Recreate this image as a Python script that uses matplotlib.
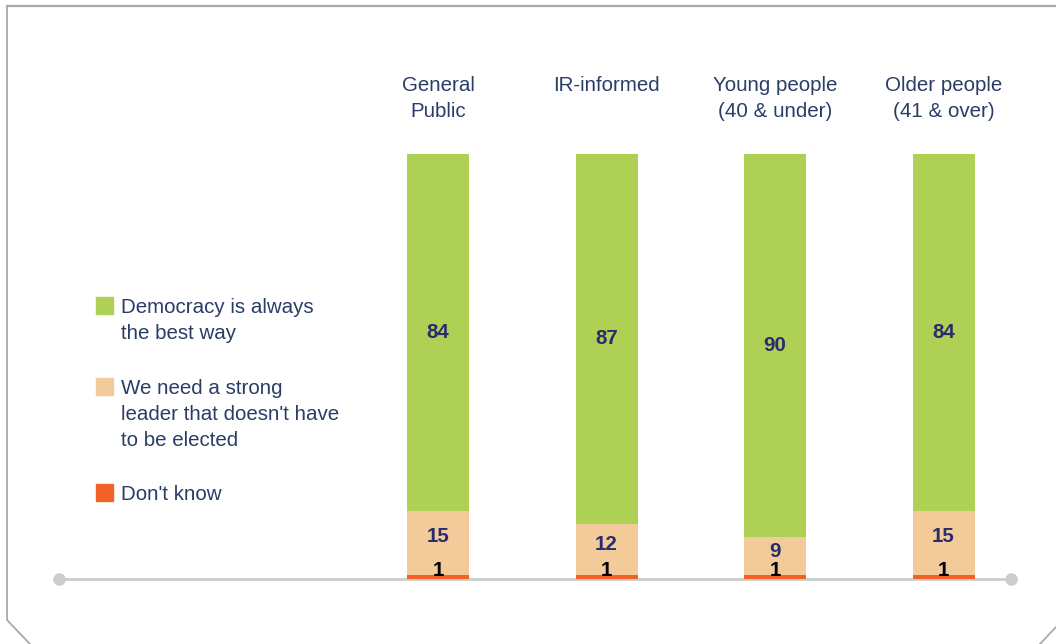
import matplotlib
matplotlib.use("Agg")
import matplotlib.pyplot as plt
from matplotlib.lines import Line2D
from matplotlib.patches import Rectangle
import numpy as np

plt.rcParams['font.family'] = ['Liberation Sans', 'DejaVu Sans']

# Survey groups and response shares (%)
groups = ["General\nPublic", "IR-informed", "Young people\n(40 & under)", "Older people\n(41 & over)"]
democracy = [84, 87, 90, 84]
strong_leader = [15, 12, 9, 15]
dont_know = [1, 1, 1, 1]

legend_labels = ["Democracy is always\nthe best way",
                 "We need a strong\nleader that doesn't have\nto be elected",
                 "Don't know"]

c_green = "#aed155"
c_peach = "#f3cb9b"
c_orange = "#f26125"
c_text = "#2a3d66"
c_value = "#2a2c6c"

W, H = 1056, 644
fig = plt.figure(figsize=(W / 100, H / 100), dpi=100)
fig.patch.set_facecolor("white")

# Plot area: baseline at y=579 px, 100% reaches y=154 px
ax_left, ax_right = 59, 1011
ax_bottom, ax_top = 579, 154
ax = fig.add_axes([ax_left / W, (H - ax_bottom) / H,
                   (ax_right - ax_left) / W, (ax_bottom - ax_top) / H])
step = 168.5
x0 = 438
ax.set_xlim((ax_left - x0) / step, (ax_right - x0) / step)
ax.set_ylim(0, 100)
ax.axis("off")

x = np.arange(len(groups))
bw = 62 / step
dk = np.array(dont_know)
sl = np.array(strong_leader)
dm = np.array(democracy)

ax.bar(x, dk, width=bw, color=c_orange, zorder=3)
ax.bar(x, sl, width=bw, bottom=dk, color=c_peach, zorder=3)
ax.bar(x, dm, width=bw, bottom=dk + sl, color=c_green, zorder=3)

fs = 14.8
for i in range(len(groups)):
    ax.text(x[i], dk[i] + sl[i] + dm[i] / 2, f"{dm[i]}", ha="center", va="center",
            fontsize=fs, fontweight="bold", color=c_value, zorder=5)
    # keep the label clear of the thin "Don't know" segment below it
    ax.text(x[i], dk[i] + sl[i] * 0.6, f"{sl[i]}", ha="center", va="center",
            fontsize=fs, fontweight="bold", color=c_value, zorder=5)
    ax.text(x[i], 2.1, f"{dk[i]}", ha="center", va="center",
            fontsize=fs, fontweight="bold", color="black", zorder=5)

# Group headings above the bars (top-aligned)
for i in range(len(groups)):
    fig.text((x0 + step * x[i]) / W, 1 - 76 / H, groups[i], ha="center", va="top",
             fontsize=fs, color=c_text, linespacing=1.48)

# Baseline with round end caps
xl = ax.get_xlim()
ax.plot([xl[0], xl[1]], [0, 0], color="#c9cec9", lw=2, zorder=2,
        clip_on=False, solid_capstyle="butt")
ax.plot([xl[0], xl[1]], [0, 0], ls="none", marker="o", ms=8,
        color="#c9cec9", clip_on=False, zorder=2)

# Legend drawn in figure pixel coordinates
def fx(px):
    return px / W

def fy(py):
    return 1 - py / H

legend_items = [(c_green, 297, legend_labels[0]),
                (c_peach, 378, legend_labels[1]),
                (c_orange, 484, legend_labels[2])]
for color, top, label in legend_items:
    fig.patches.append(Rectangle((fx(96), fy(top + 17)), 17 / W, 17 / H,
                                 transform=fig.transFigure, color=color))
    fig.text(fx(121), fy(top + 1), label, ha="left", va="top",
             fontsize=fs, color=c_text, linespacing=1.48)

# Outer frame with clipped corners
frame = "#aaaaaa"
fig.add_artist(Line2D([fx(7), fx(1056)], [fy(6), fy(6)], color=frame, lw=1.6,
                      transform=fig.transFigure))
fig.add_artist(Line2D([fx(7), fx(7), fx(30)], [fy(6), fy(620), fy(644)],
                      color=frame, lw=1.3, transform=fig.transFigure))
fig.add_artist(Line2D([fx(1040), fx(1056)], [fy(644), fy(627)],
                      color=frame, lw=1.3, transform=fig.transFigure))

fig.savefig("out.png", dpi=100, facecolor="white")
